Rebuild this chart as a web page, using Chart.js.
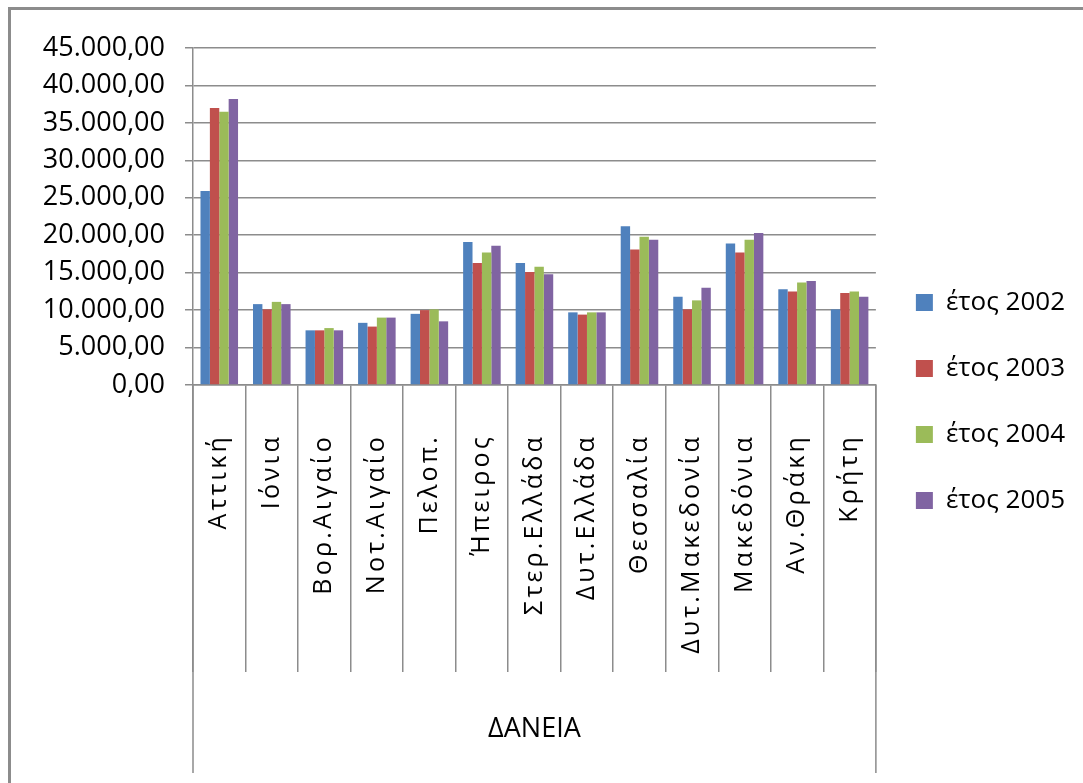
<!DOCTYPE html>
<html lang="el">
<head>
<meta charset="utf-8">
<title>ΔΑΝΕΙΑ</title>
<script src="https://cdn.jsdelivr.net/npm/chart.js@4.4.1/dist/chart.umd.min.js"></script>
<style>
  html, body { margin: 0; padding: 0; background: #fff; }
  #wrap { width: 1083px; height: 783px; }
</style>
</head>
<body>
<div id="wrap"><canvas id="loans" width="1083" height="783"></canvas></div>
<script>
// Loans per region, 2002-2005
const regions = [
  "Αττική", "Ιόνια", "Βορ.Αιγαίο", "Νοτ.Αιγαίο", "Πελοπ.", "Ήπειρος",
  "Στερ.Ελλάδα", "Δυτ.Ελλάδα", "Θεσσαλία", "Δυτ.Μακεδονία", "Μακεδόνια",
  "Αν.Θράκη", "Κρήτη"
];
const years = ["έτος 2002", "έτος 2003", "έτος 2004", "έτος 2005"];

const loans2002 = [25900, 10800, 7300, 8300, 9500, 19100, 16300, 9700, 21200, 11800, 18900, 12800, 10100];
const loans2003 = [37000, 10100, 7300, 7800, 10000, 16300, 15100, 9400, 18100, 10100, 17700, 12500, 12300];
const loans2004 = [36500, 11100, 7600, 9000, 10100, 17700, 15800, 9700, 19800, 11300, 19400, 13700, 12500];
const loans2005 = [38200, 10800, 7300, 9000, 8500, 18600, 14800, 9700, 19400, 13000, 20300, 13900, 11800];

const groupTitle = "ΔΑΝΕΙΑ";
const yMax = 45000;
const yStep = 5000;

const seriesColors = ["#4f81bd", "#c0504d", "#9bbb59", "#8064a2"];
const lineGray = "#8c8c8c";
const fontFamily = "'Open Sans', sans-serif";

// 45000 -> "45.000,00"
function formatAmount(v) {
  const [whole, dec] = Number(v).toFixed(2).split(".");
  return whole.replace(/\B(?=(\d{3})+(?!\d))/g, ".") + "," + dec;
}

// region names are drawn with wider letter spacing
const spacedCategoryLabels = {
  id: "spacedCategoryLabels",
  afterLayout(chart) {
    const scale = chart.scales.x;
    if (scale.drawLabels.spaced) return;
    const drawLabels = scale.drawLabels;
    const spaced = function (area) {
      this.ctx.save();
      this.ctx.letterSpacing = "3.2px";
      drawLabels.call(this, area);
      this.ctx.restore();
    };
    spaced.spaced = true;
    scale.drawLabels = spaced;
  }
};

// outer chart border and the box around the category labels
const chartFrame = {
  id: "chartFrame",
  afterDraw(chart) {
    const { ctx, scales: { x } } = chart;
    ctx.save();
    ctx.strokeStyle = lineGray;
    ctx.lineWidth = 3;
    ctx.beginPath();
    ctx.moveTo(9.5, chart.height);
    ctx.lineTo(9.5, 8.5);
    ctx.lineTo(chart.width, 8.5);
    ctx.stroke();

    ctx.lineWidth = 1.5;
    ctx.beginPath();
    ctx.moveTo(x.left, x.top);
    ctx.lineTo(x.left, chart.height - 10);
    ctx.moveTo(x.right, x.top);
    ctx.lineTo(x.right, chart.height - 10);
    ctx.stroke();
    ctx.restore();
  }
};

const seriesValues = [loans2002, loans2003, loans2004, loans2005];

new Chart(document.getElementById("loans"), {
  type: "bar",
  data: {
    labels: regions,
    datasets: years.map((year, i) => ({
      label: year,
      data: seriesValues[i],
      backgroundColor: seriesColors[i],
      borderWidth: 0,
      barPercentage: 1,
      categoryPercentage: 0.715
    }))
  },
  plugins: [spacedCategoryLabels, chartFrame],
  options: {
    responsive: false,
    animation: false,
    layout: {
      padding: { top: 20, left: 0, right: 8, bottom: 0 }
    },
    plugins: {
      legend: {
        position: "right",
        labels: {
          font: { family: fontFamily, size: 26 },
          color: "#000",
          boxWidth: 17,
          boxHeight: 17,
          padding: 40
        }
      },
      tooltip: { enabled: false }
    },
    scales: {
      x: {
        grid: {
          offset: true,
          drawOnChartArea: false,
          tickLength: 287,
          color: lineGray,
          lineWidth: 1.5
        },
        border: { color: lineGray, width: 1.5 },
        ticks: {
          font: { family: fontFamily, size: 25 },
          color: "#000",
          minRotation: 90,
          maxRotation: 90,
          autoSkip: false,
          padding: -238
        },
        title: {
          display: true,
          text: groupTitle,
          font: { family: fontFamily, size: 27 },
          color: "#000",
          padding: { top: 0, bottom: 37 }
        },
        afterFit(scale) {
          scale.height = 398;
        }
      },
      y: {
        min: 0,
        max: yMax,
        ticks: {
          stepSize: yStep,
          callback: v => formatAmount(v),
          font: { family: fontFamily, size: 27 },
          color: "#000",
          padding: 20
        },
        grid: {
          color: lineGray,
          lineWidth: 1.5,
          tickLength: 8
        },
        border: { color: lineGray, width: 1.5 },
        afterFit(scale) {
          scale.width = 193;
          scale.paddingTop = 48;
        }
      }
    }
  }
});
</script>
</body>
</html>
